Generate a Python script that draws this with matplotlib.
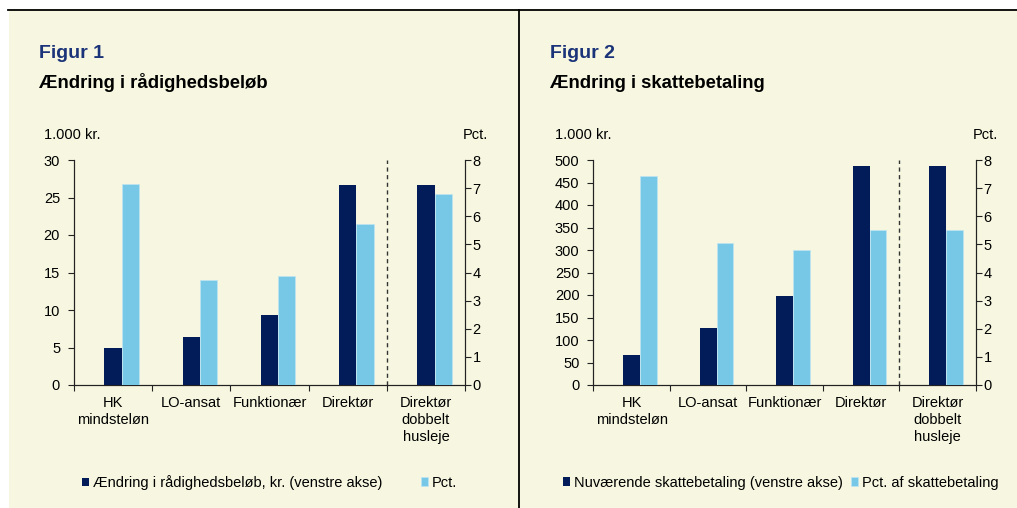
import matplotlib
matplotlib.use('Agg')
import matplotlib.pyplot as plt
from matplotlib.patches import Rectangle
from matplotlib.lines import Line2D
import numpy as np

plt.rcParams['font.family'] = ['Liberation Sans', 'DejaVu Sans']

# ---------------- data ----------------
categories = ['HK\nmindsteløn', 'LO-ansat', 'Funktionær', 'Direktør', 'Direktør\ndobbelt\nhusleje']

fig1_kr = [5.0, 6.4, 9.4, 26.7, 26.7]          # 1.000 kr. (left axis)
fig1_pct = [7.15, 3.74, 3.88, 5.71, 6.80]      # Pct. (right axis)
fig1_left_ticks = [0, 5, 10, 15, 20, 25, 30]
fig1_right_ticks = [0, 1, 2, 3, 4, 5, 6, 7, 8]

fig2_kr = [67, 127, 197, 486, 486]             # 1.000 kr. (left axis)
fig2_pct = [7.44, 5.06, 4.79, 5.52, 5.52]      # Pct. (right axis)
fig2_left_ticks = [0, 50, 100, 150, 200, 250, 300, 350, 400, 450, 500]
fig2_right_ticks = [0, 1, 2, 3, 4, 5, 6, 7, 8]

fig1_title = 'Figur 1'
fig1_subtitle = 'Ændring i rådighedsbeløb'
fig1_legend = ['Ændring i rådighedsbeløb, kr. (venstre akse)', 'Pct.']
fig2_title = 'Figur 2'
fig2_subtitle = 'Ændring i skattebetaling'
fig2_legend = ['Nuværende skattebetaling (venstre akse)', 'Pct. af skattebetaling']
left_unit = '1.000 kr.'
right_unit = 'Pct.'

# ---------------- style ----------------
W, H = 1017, 508
BG = '#F7F7E1'
DARK = '#021C5A'
LIGHT = '#76C8E6'
TITLE_BLUE = '#1B3378'
FS = 10.5

def fx(px):
    return px / W

def fy(py):
    return 1 - py / H

fig = plt.figure(figsize=(W / 100, H / 100), dpi=100)
fig.patch.set_facecolor('white')

# cream panel and frame lines
fig.patches.append(Rectangle((fx(9), 0), 1 - fx(9), fy(9), transform=fig.transFigure,
                             facecolor=BG, edgecolor='none', zorder=-10))
fig.lines.append(Line2D([fx(8), 1], [fy(9.5), fy(9.5)], transform=fig.transFigure,
                        color='black', lw=1.3))
fig.lines.append(Line2D([fx(519.3), fx(519.3)], [0, fy(9.5)], transform=fig.transFigure,
                        color='black', lw=1.3))


def make_panel(ax_px, kr, pct, lticks, rticks, dash_x, title, subtitle, title_x,
               unit_x, pct_x, legend_labels, legend_x):
    x0, x1, y0, y1 = ax_px
    ax = fig.add_axes([fx(x0), fy(y1), fx(x1) - fx(x0), (y1 - y0) / H])
    ax.set_facecolor('none')
    ax2 = ax.twinx()
    ax2.set_facecolor('none')
    n = len(categories)
    x = np.arange(n)
    w = 0.22
    b1 = ax.bar(x, kr, width=w, color=DARK, edgecolor='none', zorder=3)
    b2 = ax2.bar(x + w, pct, width=w, color=LIGHT, edgecolor='#BFE4F2', linewidth=0.5, zorder=3)

    ax.set_xlim(-0.5, n - 0.5)
    ax.set_ylim(lticks[0], lticks[-1])
    ax2.set_ylim(rticks[0], rticks[-1])
    ax.set_yticks(lticks)
    ax2.set_yticks(rticks)
    ax.set_yticklabels([str(t) for t in lticks])
    ax2.set_yticklabels([str(t) for t in rticks])

    ax.set_xticks(np.arange(-0.5, n, 1.0))
    ax.set_xticklabels([])
    ax.set_xticks(x, minor=True)
    ax.set_xticklabels(categories, minor=True, fontsize=FS, linespacing=1.25, va='top')
    ax.tick_params(axis='x', which='minor', length=0, pad=8)
    ax.tick_params(axis='x', which='major', direction='out', length=4, width=0.8, color='#222222')
    ax.tick_params(axis='y', direction='out', length=4, width=0.8, pad=6, labelsize=FS, color='#222222')
    ax2.tick_params(axis='y', direction='out', length=4, width=0.8, pad=1.5, labelsize=FS, color='#222222')

    for a in (ax, ax2):
        a.spines['top'].set_visible(False)
        for s in ('left', 'right', 'bottom'):
            a.spines[s].set_color('#222222')
            a.spines[s].set_linewidth(0.8)

    ax.axvline(dash_x, color='#333333', lw=1.0, linestyle=(0, (3, 2.5)), zorder=2)

    # texts
    fig.text(fx(title_x), fy(57.5), title, fontsize=14, fontweight='bold', color=TITLE_BLUE,
             va='baseline', ha='left')
    fig.text(fx(title_x), fy(88), subtitle, fontsize=13.3, fontweight='bold', color='black',
             va='baseline', ha='left')
    fig.text(fx(unit_x), fy(139), left_unit, fontsize=FS, va='baseline', ha='left')
    fig.text(fx(pct_x), fy(139), right_unit, fontsize=FS, va='baseline', ha='right')

    for h, lab, lx in zip([b1, b2], legend_labels, legend_x):
        fig.legend(handles=[h], labels=[lab], loc='center left',
                   bbox_to_anchor=(fx(lx), fy(482.7)), bbox_transform=fig.transFigure,
                   borderpad=0, borderaxespad=0, handlelength=0.5, handleheight=0.5,
                   handletextpad=0.25, frameon=False, fontsize=FS)
    return ax


make_panel((74, 465, 160, 385), fig1_kr, fig1_pct, fig1_left_ticks, fig1_right_ticks, 3.5,
           fig1_title, fig1_subtitle, 39, 44, 488.5, fig1_legend, [81.7, 420.7])
make_panel((593.3, 976, 160, 385), fig2_kr, fig2_pct, fig2_left_ticks, fig2_right_ticks, 3.5,
           fig2_title, fig2_subtitle, 550.5, 555, 998, fig2_legend, [563, 850.7])

fig.savefig('out.png', dpi=100, facecolor=fig.get_facecolor())
